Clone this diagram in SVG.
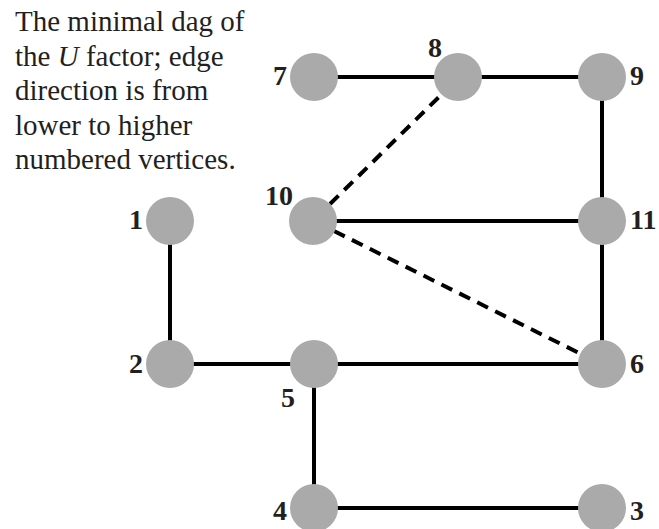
<svg xmlns="http://www.w3.org/2000/svg" width="659" height="529" viewBox="0 0 659 529">
<style>
.cap{font-family:"Liberation Serif","Times New Roman",serif;font-size:29px;fill:#231f20}
.lbl{font-family:"Liberation Serif","Times New Roman",serif;font-size:28px;font-weight:bold;fill:#231f20}
.e{stroke:#000;stroke-width:4;fill:none}
.d{stroke:#000;stroke-width:4;fill:none;stroke-dasharray:12 8}
.n{fill:#aaaaaa}
</style>
<rect width="659" height="529" fill="#fff"/>
<g id="caption" class="cap">
<text x="15" y="31">The minimal dag of</text>
<text x="15" y="65.5">the <tspan font-style="italic">U</tspan> factor; edge</text>
<text x="15" y="100">direction is from</text>
<text x="15" y="134.5">lower to higher</text>
<text x="15" y="169">numbered vertices.</text>
</g>
<g id="edges">
<line class="e" x1="314" y1="77" x2="458" y2="77"/>
<line class="e" x1="458" y1="77" x2="602" y2="77"/>
<line class="e" x1="602" y1="77" x2="602" y2="221"/>
<line class="e" x1="313" y1="221" x2="602" y2="221"/>
<line class="e" x1="602" y1="221" x2="602" y2="364"/>
<line class="e" x1="170" y1="221" x2="170" y2="364"/>
<line class="e" x1="170" y1="364" x2="602" y2="364"/>
<line class="e" x1="314" y1="364" x2="314" y2="508"/>
<line class="e" x1="314" y1="508" x2="602" y2="508"/>
<line class="d" x1="330" y1="204" x2="443" y2="93"/>
<line class="d" x1="334" y1="231" x2="581" y2="354"/>
</g>
<g id="n7"><circle class="n" cx="314" cy="77" r="24"/><text class="lbl" x="287" y="85" text-anchor="end">7</text></g>
<g id="n8"><circle class="n" cx="458" cy="77" r="24"/><text class="lbl" x="435" y="57" text-anchor="middle">8</text></g>
<g id="n9"><circle class="n" cx="602" cy="77" r="24"/><text class="lbl" x="630" y="85">9</text></g>
<g id="n1"><circle class="n" cx="170" cy="221" r="24"/><text class="lbl" x="143" y="229" text-anchor="end">1</text></g>
<g id="n10"><circle class="n" cx="313" cy="221" r="24"/><text class="lbl" x="279" y="205" text-anchor="middle">10</text></g>
<g id="n11"><circle class="n" cx="602" cy="221" r="24"/><text class="lbl" x="630" y="229">11</text></g>
<g id="n2"><circle class="n" cx="170" cy="364" r="24"/><text class="lbl" x="143" y="373" text-anchor="end">2</text></g>
<g id="n5"><circle class="n" cx="314" cy="364" r="24"/><text class="lbl" x="288" y="407" text-anchor="middle">5</text></g>
<g id="n6"><circle class="n" cx="602" cy="364" r="24"/><text class="lbl" x="630" y="373">6</text></g>
<g id="n4"><circle class="n" cx="314" cy="508" r="24"/><text class="lbl" x="287" y="520" text-anchor="end">4</text></g>
<g id="n3"><circle class="n" cx="602" cy="508" r="24"/><text class="lbl" x="630" y="520">3</text></g>
</svg>
